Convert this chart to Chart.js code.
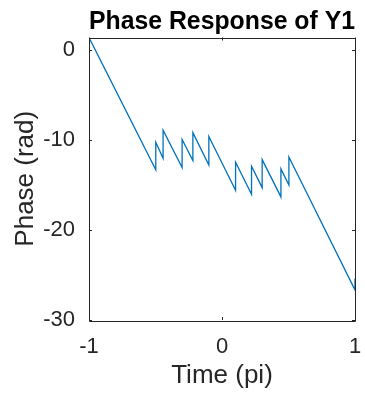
<!DOCTYPE html>
<html>
<head>
<meta charset="utf-8">
<script src="https://cdn.jsdelivr.net/npm/chart.js@4"></script>
<style>
  html, body { margin: 0; padding: 0; background: #fff; }
  #wrap { width: 365px; height: 396px; }
</style>
</head>
<body>
<div id="wrap"><canvas id="chart" width="365" height="396"></canvas></div>
<script>
// Phase response of Y1
const timeValues = [-1, -0.498, -0.498, -0.443, -0.443, -0.300, -0.300, -0.219, -0.219, -0.099, -0.099,
  0.102, 0.102, 0.222, 0.222, 0.302, 0.302, 0.443, 0.443, 0.503, 0.503, 1, 1];
const phaseValues = [1.37, -13.33, -10.26, -12.04, -8.93, -13.07, -9.96, -12.3, -9.19, -12.78, -9.63,
  -15.6, -12.48, -16.04, -12.93, -15.3, -12.19, -16.33, -13.22, -15.0, -11.89, -26.67, -25.4];
const xTicks = [-1, 0, 1];
const yTicks = [-30, -20, -10, 0];

const axisColor = '#262626';
const fontFamily = '"Liberation Sans", Arial, Helvetica, sans-serif';

const points = timeValues.map((t, i) => ({ x: t, y: phaseValues[i] }));

// MATLAB style box with ticks pointing inwards
const boxPlugin = {
  id: 'boxPlugin',
  afterDraw(chart) {
    const { ctx, chartArea: a, scales } = chart;
    ctx.save();
    ctx.strokeStyle = axisColor;
    ctx.lineWidth = 1;
    ctx.beginPath();
    ctx.rect(Math.round(a.left) + 0.5, Math.round(a.top) + 0.5,
      Math.round(a.right - a.left), Math.round(a.bottom - a.top));
    const len = 3;
    xTicks.forEach(v => {
      const px = Math.round(scales.x.getPixelForValue(v)) + 0.5;
      ctx.moveTo(px, a.bottom); ctx.lineTo(px, a.bottom - len);
      ctx.moveTo(px, a.top); ctx.lineTo(px, a.top + len);
    });
    yTicks.forEach(v => {
      const py = Math.round(scales.y.getPixelForValue(v)) + 0.5;
      ctx.moveTo(a.left, py); ctx.lineTo(a.left + len, py);
      ctx.moveTo(a.right, py); ctx.lineTo(a.right - len, py);
    });
    ctx.stroke();
    ctx.restore();
  }
};

new Chart(document.getElementById('chart'), {
  type: 'line',
  data: {
    datasets: [{
      data: points,
      borderColor: '#0072BD',
      borderWidth: 1.3,
      pointRadius: 0,
      tension: 0,
      fill: false
    }]
  },
  options: {
    responsive: false,
    animation: false,
    layout: { padding: { right: 0, left: 0, top: 0, bottom: 0 } },
    plugins: {
      legend: { display: false },
      tooltip: { enabled: false },
      title: {
        display: true,
        text: 'Phase Response of Y1',
        fullSize: false,
        color: '#000',
        font: { family: fontFamily, size: 26, weight: 'bold', lineHeight: 1.2 },
        padding: { top: 6, bottom: 0.3 }
      }
    },
    scales: {
      x: {
        type: 'linear',
        min: -1,
        max: 1,
        afterBuildTicks: s => { s.ticks = xTicks.map(v => ({ value: v })); },
        afterFit: s => { s.height = 76; s.paddingRight = 10; },
        grid: { display: false },
        border: { display: false },
        ticks: {
          color: axisColor,
          padding: 6,
          maxRotation: 0,
          font: { family: fontFamily, size: 22 }
        },
        title: {
          display: true,
          text: 'Time (pi)',
          color: axisColor,
          font: { family: fontFamily, size: 26, lineHeight: 1.2 },
          padding: { top: 0, bottom: 4.5 }
        }
      },
      y: {
        type: 'linear',
        min: -30,
        max: 1.37,
        afterBuildTicks: s => { s.ticks = yTicks.map(v => ({ value: v })); },
        afterFit: s => { s.width = 89; },
        grid: { display: false },
        border: { display: false },
        ticks: {
          color: axisColor,
          padding: 6,
          font: { family: fontFamily, size: 22 }
        },
        title: {
          display: true,
          text: 'Phase (rad)',
          color: axisColor,
          font: { family: fontFamily, size: 26, lineHeight: 1.2 },
          padding: { top: 10, bottom: 0 }
        }
      }
    }
  },
  plugins: [boxPlugin]
});
</script>
</body>
</html>
